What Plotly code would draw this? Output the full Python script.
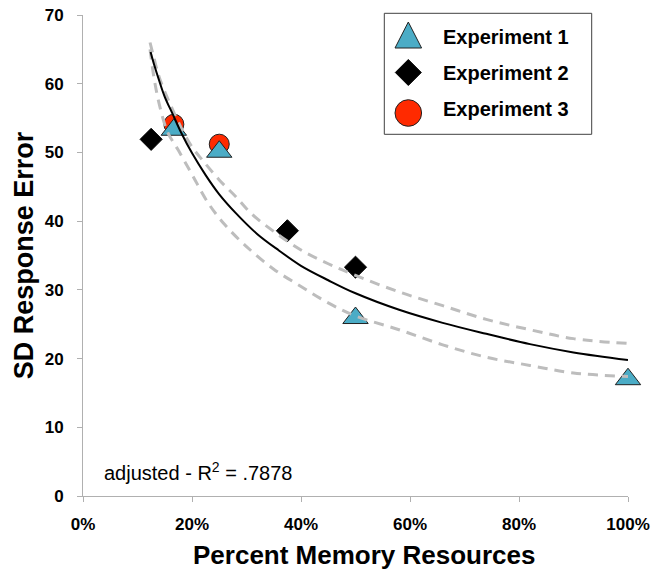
import plotly.graph_objects as go

# ---- data ----
exp1_x = [0.1667, 0.25, 0.50, 1.00]
exp1_y = [53.3, 50.1, 25.9, 17.0]
exp2_x = [0.125, 0.375, 0.50]
exp2_y = [51.9, 38.6, 33.3]
exp3_x = [0.1667, 0.25]
exp3_y = [54.1, 51.2]

fit_x = [0.124, 0.13, 0.14, 0.15, 0.165, 0.18, 0.20, 0.225, 0.25, 0.28, 0.32, 0.36,
         0.40, 0.45, 0.50, 0.58, 0.66, 0.74, 0.82, 0.90, 1.00]
fit_y = [64.6, 62.9, 60.4, 58.1, 55.5, 52.9, 49.9, 46.7, 43.9, 41.2, 38.1, 35.7,
         33.5, 31.4, 29.5, 27.1, 25.2, 23.6, 22.1, 20.9, 19.8]

upper_x = [0.123, 0.13, 0.14, 0.16, 0.18, 0.20, 0.22, 0.25, 0.28, 0.31, 0.35, 0.40,
           0.45, 0.50, 0.58, 0.66, 0.74, 0.82, 0.90, 1.00]
upper_y = [66.0, 63.8, 60.9, 57.0, 53.6, 50.8, 48.8, 46.0, 43.6, 41.0, 38.5, 35.8,
           33.8, 32.1, 29.7, 27.7, 25.7, 24.2, 22.9, 22.2]

lower_x = [0.123, 0.13, 0.14, 0.155, 0.175, 0.20, 0.23, 0.26, 0.30, 0.35, 0.40, 0.45,
           0.50, 0.58, 0.66, 0.74, 0.82, 0.90, 1.00]
lower_y = [65.0, 61.0, 57.0, 53.0, 50.3, 46.8, 42.6, 39.5, 36.3, 33.0, 30.5, 28.1,
           26.2, 24.2, 22.0, 20.2, 19.0, 17.9, 17.4]

x_tickvals = [0, 0.2, 0.4, 0.6, 0.8, 1.0]
x_ticktext = ["0%", "20%", "40%", "60%", "80%", "100%"]
y_tickvals = [0, 10, 20, 30, 40, 50, 60, 70]

legend_names = ["Experiment 1", "Experiment 2", "Experiment 3"]
r2_text = "adjusted - R<sup>2</sup> = .7878"
x_title = "Percent Memory Resources"
y_title = "SD Response Error"

# ---- style ----
FONT = "Liberation Sans, Arial, Helvetica, sans-serif"
BLUE = "#4bacc6"
RED = "#ff2a00"
AXIS = "#b0b0b0"
W, H = 653, 571
ML, MR, MT, MB = 83, 25, 15, 75
PW, PH = W - ML - MR, H - MT - MB


def px(xp):
    return (xp - ML) / PW


def py(yp):
    return (MT + PH - yp) / PH


fig = go.Figure()

fig.add_trace(go.Scatter(x=exp2_x, y=exp2_y, mode="markers", name=legend_names[1],
                         marker=dict(symbol="diamond", size=17, color="black",
                                     line=dict(color="black", width=1)),
                         cliponaxis=False, showlegend=False))
fig.add_trace(go.Scatter(x=exp3_x, y=exp3_y, mode="markers", name=legend_names[2],
                         marker=dict(symbol="circle", size=20, color=RED,
                                     line=dict(color="#222222", width=1)),
                         cliponaxis=False, showlegend=False))
fig.add_trace(go.Scatter(x=exp1_x, y=exp1_y, mode="markers", name=legend_names[0],
                         marker=dict(symbol="triangle-up", size=22, color=BLUE,
                                     line=dict(color="#222222", width=1)),
                         cliponaxis=False, showlegend=False))

fig.add_trace(go.Scatter(x=upper_x, y=upper_y, mode="lines", line_shape="spline",
                         line=dict(color="#bdbdbd", width=3, dash="10px,7px"),
                         showlegend=False, cliponaxis=False))
fig.add_trace(go.Scatter(x=lower_x, y=lower_y, mode="lines", line_shape="spline",
                         line=dict(color="#bdbdbd", width=3, dash="10px,7px"),
                         showlegend=False, cliponaxis=False))
fig.add_trace(go.Scatter(x=fit_x, y=fit_y, mode="lines", line_shape="spline",
                         line=dict(color="black", width=2),
                         showlegend=False, cliponaxis=False))

# ---- custom legend (large symbols) ----
shapes = [dict(type="rect", xref="paper", yref="paper",
               x0=px(384.3), x1=px(591.7), y0=py(134.3), y1=py(13.3),
               line=dict(color="#404040", width=1), fillcolor="white", layer="above")]
lx = px(408.3)
shapes.append(dict(type="path", xref="paper", yref="paper", xsizemode="pixel", ysizemode="pixel",
                   xanchor=lx, yanchor=py(35), path="M -13.3 -13 L 13.3 -13 L 0 13 Z",
                   fillcolor=BLUE, line=dict(color="#222222", width=1), layer="above"))
shapes.append(dict(type="path", xref="paper", yref="paper", xsizemode="pixel", ysizemode="pixel",
                   xanchor=lx, yanchor=py(72.5), path="M -13 0 L 0 13 L 13 0 L 0 -13 Z",
                   fillcolor="black", line=dict(color="black", width=1), layer="above"))
shapes.append(dict(type="circle", xref="paper", yref="paper", xsizemode="pixel", ysizemode="pixel",
                   xanchor=lx, yanchor=py(113), x0=-13.3, x1=13.3, y0=-13.3, y1=13.3,
                   fillcolor=RED, line=dict(color="#222222", width=1), layer="above"))

annotations = []
for name, yc in zip(legend_names, [36.7, 72.5, 109.5]):
    annotations.append(dict(xref="paper", yref="paper", x=px(441), y=py(yc), text="<b>%s</b>" % name,
                            showarrow=False, xanchor="left", yanchor="middle",
                            font=dict(family=FONT, size=20, color="black")))
annotations.append(dict(xref="paper", yref="paper", x=px(102), y=py(471), text=r2_text,
                        showarrow=False, xanchor="left", yanchor="middle",
                        font=dict(family=FONT, size=20, color="black")))
annotations.append(dict(xref="paper", yref="paper", x=px(364), y=py(555), text="<b>%s</b>" % x_title,
                        showarrow=False, xanchor="center", yanchor="middle",
                        font=dict(family=FONT, size=26, color="black")))

fig.update_layout(
    width=W, height=H,
    margin=dict(l=ML, r=MR, t=MT, b=MB, pad=0, autoexpand=False),
    plot_bgcolor="white", paper_bgcolor="white",
    font=dict(family=FONT, color="black"),
    shapes=shapes, annotations=annotations,
    xaxis=dict(range=[0, 1], tickmode="array", tickvals=x_tickvals,
               ticktext=["<b>%s</b>" % t for t in x_ticktext], automargin=False,
               showgrid=False, zeroline=False, showline=True, linecolor=AXIS, linewidth=1,
               ticks="outside", ticklen=5, tickcolor=AXIS, tickwidth=1,
               tickfont=dict(family=FONT, size=17, color="black"), ticklabelstandoff=8),
    yaxis=dict(range=[0, 70], tickmode="array", tickvals=y_tickvals,
               ticktext=["<b>%d</b>" % v for v in y_tickvals], automargin=False,
               showgrid=False, zeroline=False, showline=True, linecolor=AXIS, linewidth=1,
               ticks="outside", ticklen=5, tickcolor=AXIS, tickwidth=1,
               tickfont=dict(family=FONT, size=17, color="black"), ticklabelstandoff=10,
               title=dict(text="<b>%s</b>" % y_title, standoff=3,
                          font=dict(family=FONT, size=27, color="black"))),
)
fig.update_traces(hoverinfo="skip")

fig.write_html("out.html", config={"displayModeBar": False},
               post_script="document.body.style.margin='0';")
